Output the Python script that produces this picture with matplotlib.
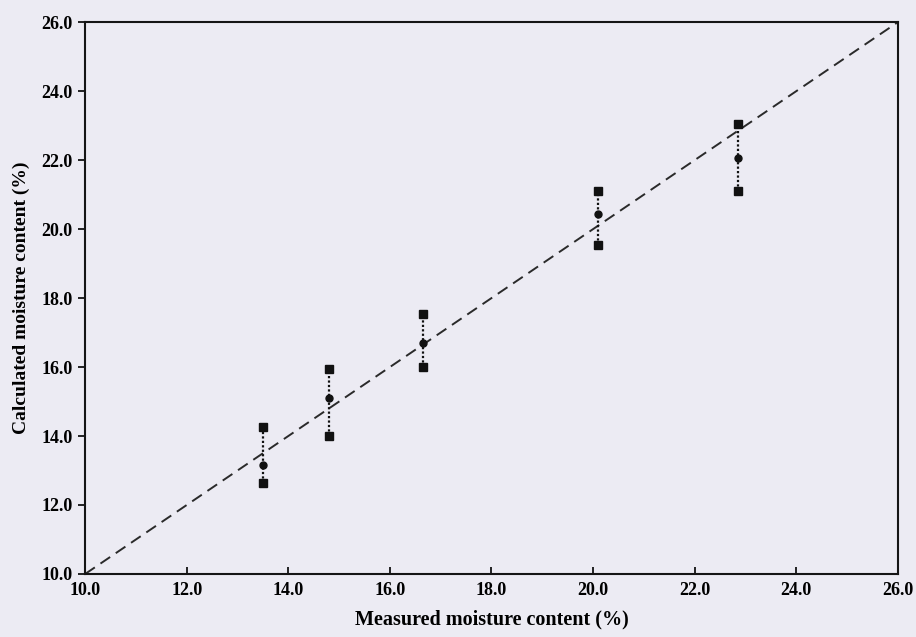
import matplotlib
matplotlib.use("Agg")
import matplotlib.pyplot as plt

measured = [13.5, 14.8, 16.65, 20.1, 22.85]
calc_mid = [13.15, 15.1, 16.7, 20.45, 22.05]
calc_upper = [14.25, 15.95, 17.55, 21.1, 23.05]
calc_lower = [12.65, 14.0, 16.0, 19.55, 21.1]
ticks = [10.0, 12.0, 14.0, 16.0, 18.0, 20.0, 22.0, 24.0, 26.0]
line_ends = [10.0, 26.0]

plt.rcParams['font.family'] = ['Liberation Serif', 'DejaVu Serif']
plt.rcParams['font.weight'] = 'bold'

bg = '#ecebf3'
fig = plt.figure(figsize=(9.16, 6.37), dpi=100, facecolor=bg)
ax = fig.add_axes([0.093, 0.099, 0.887, 0.866], facecolor=bg)

ax.plot(line_ends, line_ends, linestyle=(0, (6, 3.5)), color='#2a2a2a', lw=1.4, zorder=1)

for x, lo, m, hi in zip(measured, calc_lower, calc_mid, calc_upper):
    ax.plot([x, x], [lo, hi], linestyle=(0, (1, 1)), color='#111111', lw=1.6, zorder=2)
ax.plot(measured, calc_upper, 's', color='#111111', ms=5.5, zorder=3)
ax.plot(measured, calc_lower, 's', color='#111111', ms=5.5, zorder=3)
ax.plot(measured, calc_mid, 'o', color='#111111', ms=5, zorder=3)

ax.set_xlim(10, 26)
ax.set_ylim(10, 26)
ax.set_xticks(ticks)
ax.set_yticks(ticks)
ax.set_xticklabels([f"{t:.1f}" for t in ticks])
ax.set_yticklabels([f"{t:.1f}" for t in ticks])
ax.tick_params(axis='x', direction='in', length=5, width=1.2, labelsize=13, pad=6)
ax.tick_params(axis='y', direction='out', length=5, width=1.2, labelsize=13, pad=4)
for s in ax.spines.values():
    s.set_linewidth(1.5)
    s.set_color('#151515')

ax.set_xlabel('Measured moisture content (%)', fontsize=14.5, fontweight='bold', labelpad=7)
ax.set_ylabel('Calculated moisture content (%)', fontsize=14, fontweight='bold', labelpad=8)

fig.savefig('out.png', dpi=100, facecolor=bg)
